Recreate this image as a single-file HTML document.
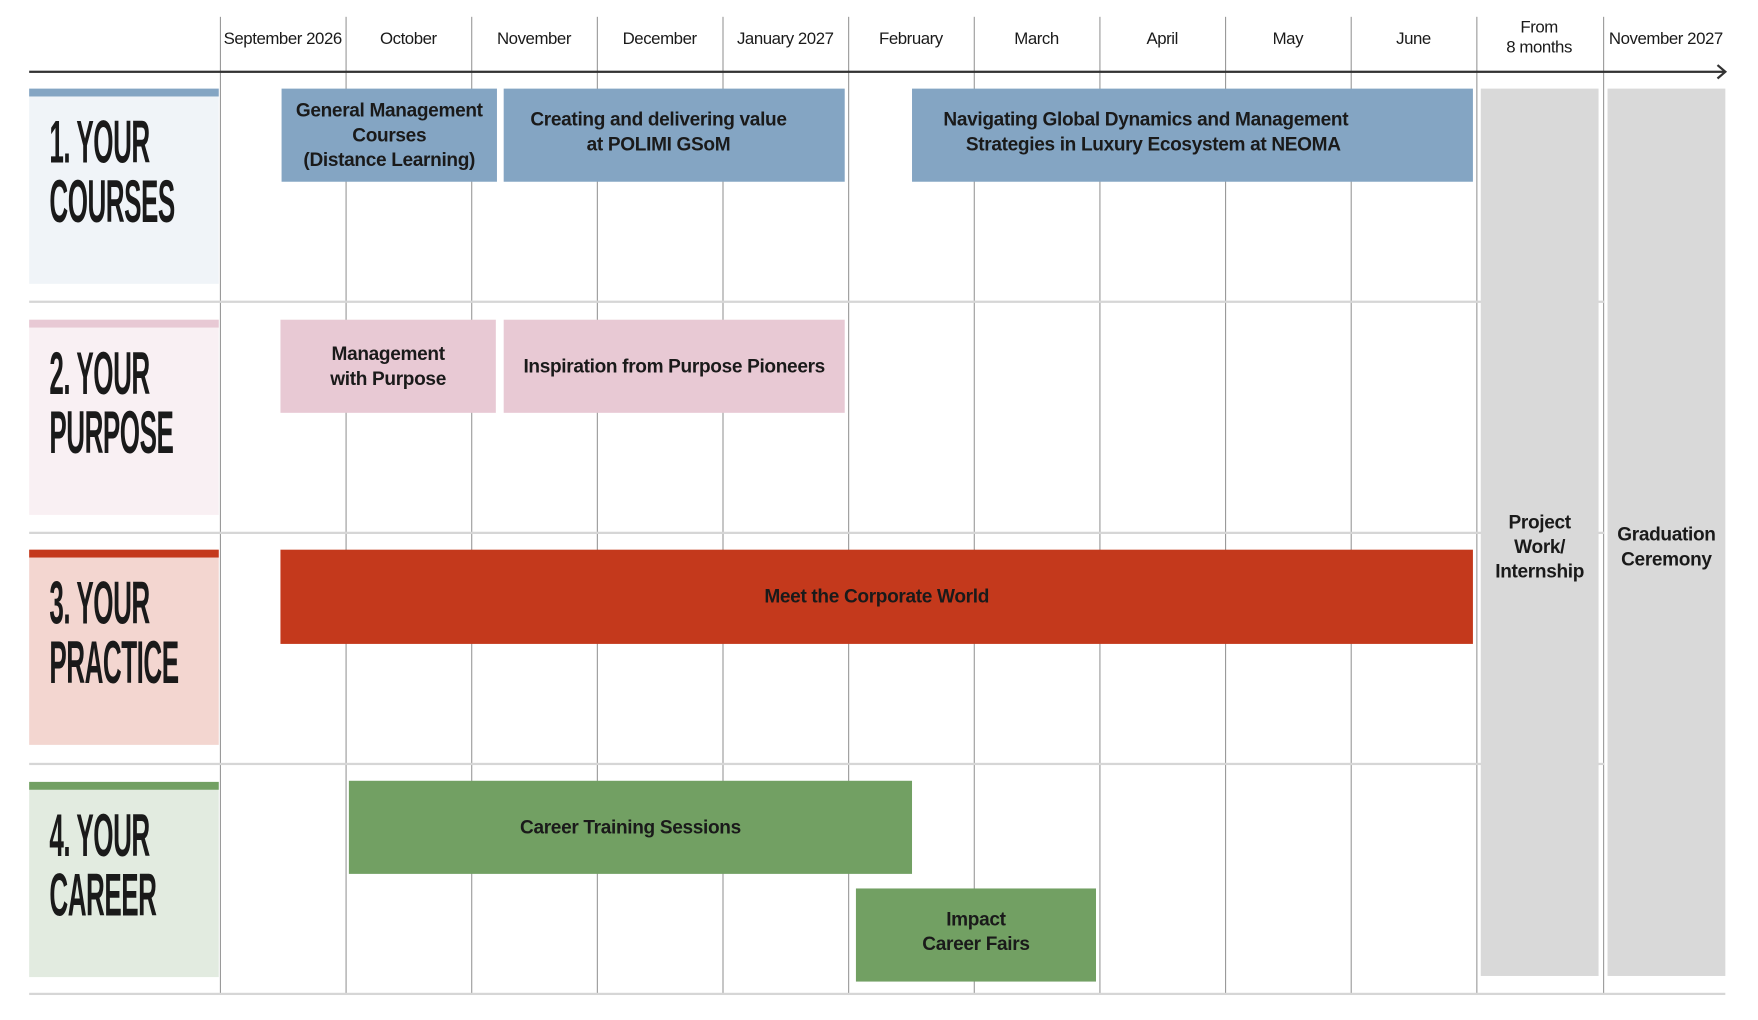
<!DOCTYPE html>
<html><head><meta charset="utf-8"><style>
html,body{margin:0;padding:0;background:#fff;width:1758px;height:1020px;overflow:hidden}
#w{position:absolute;left:0;top:0;width:1560px;height:905px;transform:scale(1.1218);transform-origin:0 0;font-family:"Liberation Sans",sans-serif;color:#1a1a1a}
.a{position:absolute}
.vl{position:absolute;top:15px;height:871px;width:1px;background:#9a9a9a}
.hl{position:absolute;left:26px;height:2px;background:#d6d6d6}
.m{position:absolute;top:26px;width:112px;text-align:center;font-size:15px;letter-spacing:-0.4px;line-height:18px}
.lab{position:absolute;left:26px;width:169px;height:174px}
.lab .s{position:absolute;left:0;top:0;width:169px;height:7px}
.lab .t{position:absolute;left:18px;top:22px;font-weight:bold;font-size:54px;line-height:53px;transform:scaleX(0.43);transform-origin:0 0;white-space:nowrap;letter-spacing:-1px}
.b{position:absolute;display:flex;align-items:center;justify-content:center;text-align:center;font-weight:bold;font-size:17px;line-height:22px;letter-spacing:-0.3px}
.blue{background:#84a5c3}.pink{background:#e8c9d4}.red{background:#c4391c}.green{background:#72a063}.gray{background:#d9d9d9}
</style></head><body><div id="w">
<div class="vl" style="left:196px"></div><div class="vl" style="left:308px"></div><div class="vl" style="left:420px"></div><div class="vl" style="left:532px"></div><div class="vl" style="left:644px"></div><div class="vl" style="left:756px"></div><div class="vl" style="left:868px"></div><div class="vl" style="left:980px"></div><div class="vl" style="left:1092px"></div><div class="vl" style="left:1204px"></div><div class="vl" style="left:1316px"></div><div class="vl" style="left:1429px"></div>
<div class="m" style="left:196px">September 2026</div>
<div class="m" style="left:308px">October</div>
<div class="m" style="left:420px">November</div>
<div class="m" style="left:532px">December</div>
<div class="m" style="left:644px">January 2027</div>
<div class="m" style="left:756px">February</div>
<div class="m" style="left:868px">March</div>
<div class="m" style="left:980px">April</div>
<div class="m" style="left:1092px">May</div>
<div class="m" style="left:1204px">June</div>
<div class="m" style="left:1316px;top:16px">From<br>8 months</div>
<div class="m" style="left:1429px">November 2027</div>
<div class="a" style="left:26px;top:63px;width:1512px;height:2px;background:#333"></div>
<svg class="a" style="left:1528px;top:56px" width="14" height="16"><polyline points="3,2 10,8 3,14" fill="none" stroke="#333" stroke-width="2"/></svg>
<div class="hl" style="top:268px;width:1404px"></div>
<div class="hl" style="top:474px;width:1404px"></div>
<div class="hl" style="top:680px;width:1404px"></div>
<div class="hl" style="top:885px;width:1512px"></div>

<div class="lab" style="top:79px;background:#f0f4f8"><div class="s blue"></div><div class="t">1. YOUR<br>COURSES</div></div>
<div class="lab" style="top:285px;background:#f9f0f3"><div class="s pink"></div><div class="t">2. YOUR<br>PURPOSE</div></div>
<div class="lab" style="top:490px;background:#f3d6d0"><div class="s red"></div><div class="t">3. YOUR<br>PRACTICE</div></div>
<div class="lab" style="top:697px;background:#e2ebe0"><div class="s green"></div><div class="t">4. YOUR<br>CAREER</div></div>

<div class="b blue" style="left:251px;top:79px;width:192px;height:83px">General Management<br>Courses<br>(Distance Learning)</div>
<div class="b blue" style="left:449px;top:79px;width:304px;height:83px;align-items:flex-start;padding-top:17px;box-sizing:border-box;padding-right:28px">Creating and delivering value<br>at POLIMI GSoM</div>
<div class="b blue" style="left:813px;top:79px;width:500px;height:83px;align-items:flex-start;padding-top:17px;box-sizing:border-box;justify-content:flex-start;padding-left:28px">Navigating Global Dynamics and Management<br>&nbsp;&nbsp;&nbsp;Strategies in Luxury Ecosystem at NEOMA</div>
<div class="b pink" style="left:250px;top:285px;width:192px;height:83px">Management<br>with Purpose</div>
<div class="b pink" style="left:449px;top:285px;width:304px;height:83px">Inspiration from Purpose Pioneers</div>
<div class="b red" style="left:250px;top:490px;width:1063px;height:84px">Meet the Corporate World</div>
<div class="b green" style="left:311px;top:696px;width:502px;height:83px">Career Training Sessions</div>
<div class="b green" style="left:763px;top:792px;width:214px;height:83px;padding-bottom:6px;box-sizing:border-box">Impact<br>Career Fairs</div>
<div class="b gray" style="left:1320px;top:79px;width:105px;height:791px;padding-top:26px;box-sizing:border-box">Project<br>Work/<br>Internship</div>
<div class="b gray" style="left:1433px;top:79px;width:105px;height:791px;padding-top:26px;box-sizing:border-box">Graduation<br>Ceremony</div>
</div></body></html>
